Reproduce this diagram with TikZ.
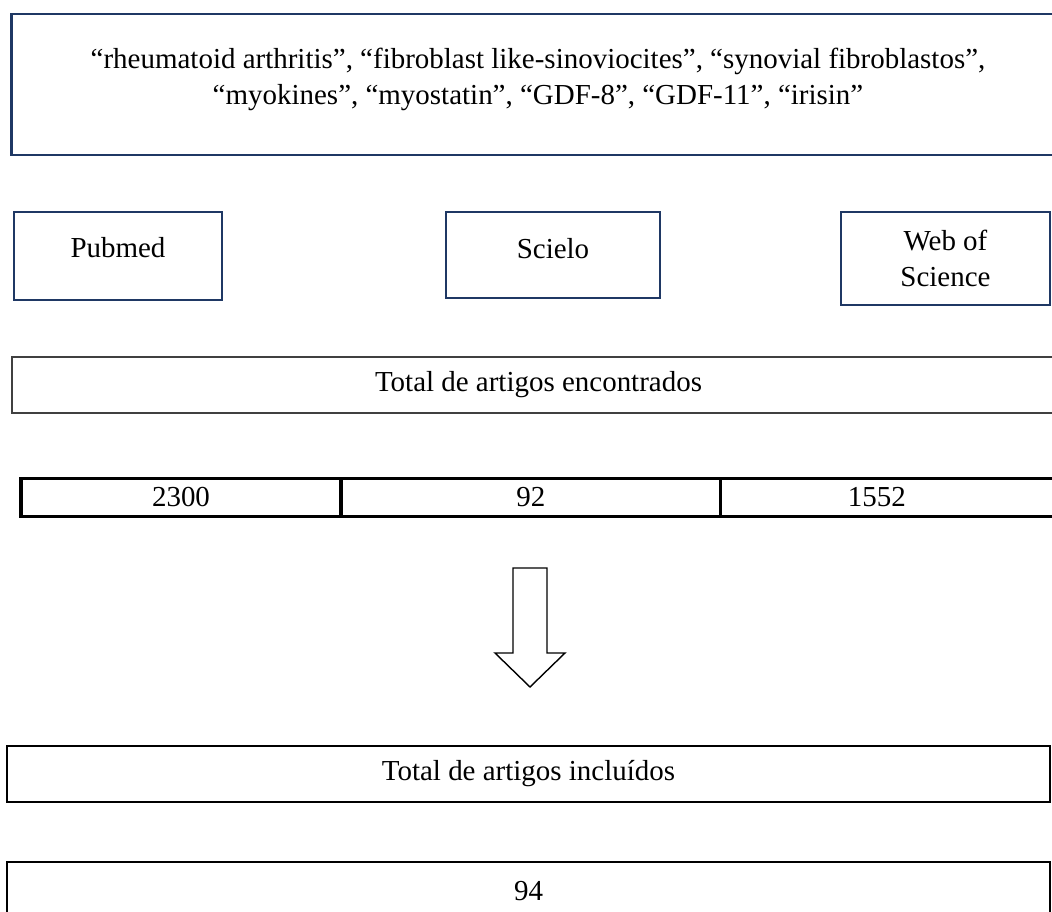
\documentclass[tikz,border=0pt]{standalone}
\usepackage{fontspec}
\setmainfont{Liberation Serif}
\usetikzlibrary{positioning}

\definecolor{navyline}{RGB}{31,56,100}
\definecolor{greyline}{RGB}{64,64,64}

\tikzset{
  termbox/.style 2 args={draw, minimum width=#1*0.025cm, minimum height=#2*0.025cm,
    inner sep=0pt, align=center, line width=1.5pt},
  dbbox/.style 2 args={termbox={#1}{#2}, draw=navyline, line width=1.6pt},
  cellbox/.style 2 args={minimum width=#1*0.025cm, minimum height=#2*0.025cm, inner sep=0pt},
  rowline/.style={line width=2.2pt}
}

\begin{document}
\begin{tikzpicture}[x=0.025cm, y=-0.025cm, font=\fontsize{20.6}{25.8}\selectfont]

    % Keep the page at the size of the reference
    \useasboundingbox (0,0) rectangle (1052,912);
    \clip (0,0) rectangle (1052,912);

    % Draw the box with the search terms
    \node[dbbox={1053}{141}, text depth=1.15em] (terms) at (538,84.5)
      {“rheumatoid arthritis”, “fibroblast like-sinoviocites”, “synovial fibroblastos”,\\
       “myokines”, “myostatin”, “GDF-8”, “GDF-11”, “irisin”};

    % Draw the three databases
    \node[dbbox={208}{88}, text depth=1.15em] (pubmed) at (118,256) {Pubmed};
    \node[dbbox={214}{86}, text depth=0.95em] (scielo) at (553,255) {Scielo};
    \node[dbbox={209}{93}] (wos) at (945.5,258.5) {Web of\\Science};

    % Total of articles found
    \node[termbox={1053}{56}, draw=greyline] (found) at (538.5,385) {Total de artigos encontrados};

    % Row with the counts of each database
    \node[cellbox={319.5}{37}] (pubcount) at (181,497.5) {2300};
    \node[cellbox={379}{37}, right=0pt of pubcount] (scicount) {92};
    \node[cellbox={312}{37}, right=0pt of scicount] (woscount) {1552};
    \draw[rowline] ([xshift=1cm]woscount.north east) -| (pubcount.south west)
      -- ([xshift=1cm]woscount.south east);
    \draw[rowline] (pubcount.north east) -- (pubcount.south east);
    \draw[rowline] (scicount.north east) -- (scicount.south east);

    % Draw the block arrow
    \coordinate (arrowtop) at (530,568);
    \draw[line width=1pt] (arrowtop) ++(-17,0) -- ++(0,85) -- ++(-18,0) -- ++(35,34)
      -- ++(35,-34) -- ++(-18,0) -- ++(0,-85) -- cycle;

    % Total of articles included
    \node[termbox={1043}{56}] (included) at (528.5,774) {Total de artigos incluídos};
    \node[termbox={1043}{58}] (final) at (528.5,891) {94};

\end{tikzpicture}
\end{document}
